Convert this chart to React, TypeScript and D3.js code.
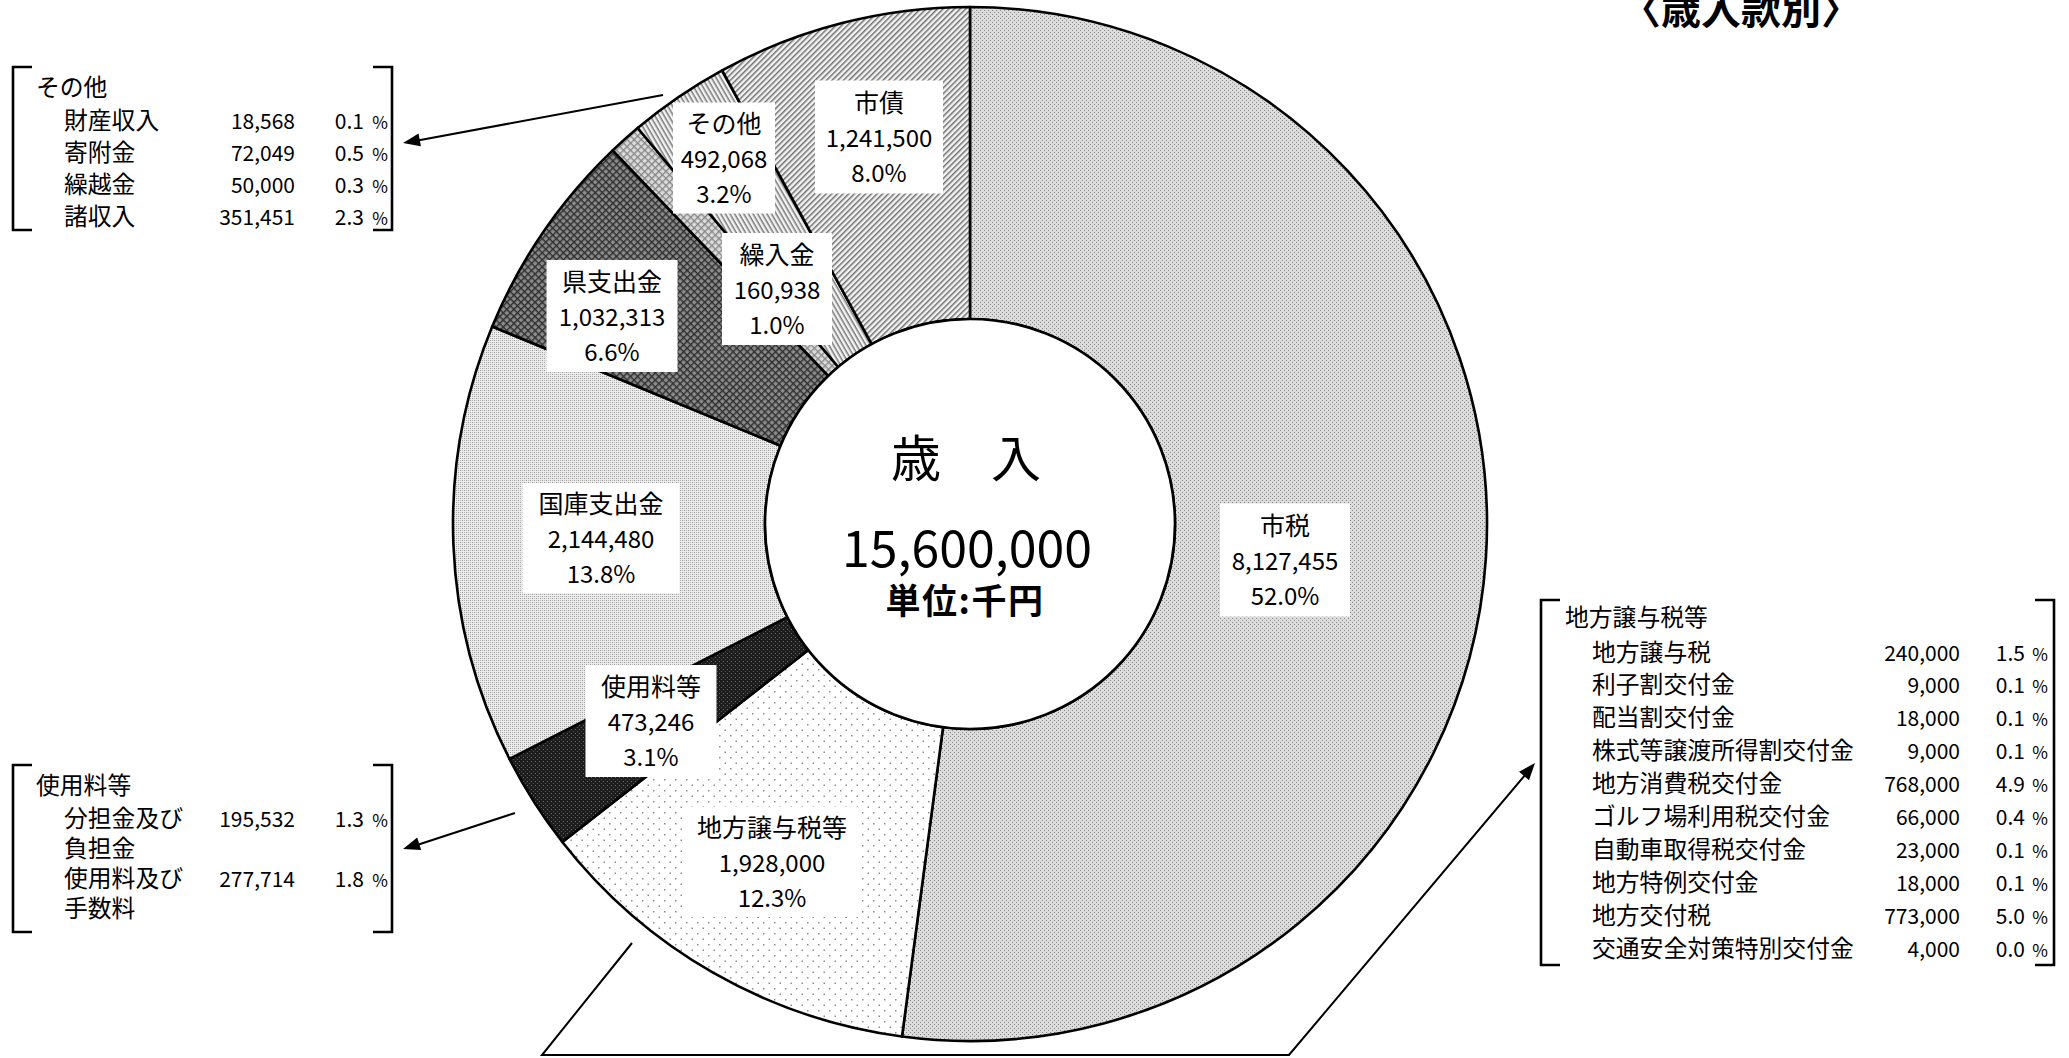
import React, { useEffect } from 'react';
import * as d3 from 'd3';

// ---- data ----
const categories = ['市税', '地方譲与税等', '使用料等', '国庫支出金', '県支出金', '繰入金', 'その他', '市債'];
const values = [8127455, 1928000, 473246, 2144480, 1032313, 160938, 492068, 1241500];
const percents = ['52.0%', '12.3%', '3.1%', '13.8%', '6.6%', '1.0%', '3.2%', '8.0%'];

const otherNames = ['財産収入', '寄附金', '繰越金', '諸収入'];
const otherValues = [18568, 72049, 50000, 351451];
const otherPercents = ['0.1', '0.5', '0.3', '2.3'];

const feeNames = [['分担金及び', '負担金'], ['使用料及び', '手数料']];
const feeValues = [195532, 277714];
const feePercents = ['1.3', '1.8'];

const localNames = ['地方譲与税', '利子割交付金', '配当割交付金', '株式等譲渡所得割交付金', '地方消費税交付金', 'ゴルフ場利用税交付金', '自動車取得税交付金', '地方特例交付金', '地方交付税', '交通安全対策特別交付金'];
const localValues = [240000, 9000, 18000, 9000, 768000, 66000, 23000, 18000, 773000, 4000];
const localPercents = ['1.5', '0.1', '0.1', '0.1', '4.9', '0.4', '0.1', '0.1', '5.0', '0.0'];

// ---- layout ----
const W = 2069, H = 1058;
const CX = 970, CY = 524, R_OUT = 517, R_IN = 205;
const FONT = "'Noto Sans CJK JP', 'Noto Sans CJK SC', sans-serif";

// label box layout per category (center x, center y, width, height)
const labelBoxes = [
  { x: 1285, y: 560, w: 130, h: 113 },
  { x: 772, y: 862, w: 180, h: 110 },
  { x: 651, y: 721, w: 131, h: 112 },
  { x: 601, y: 538, w: 157, h: 110 },
  { x: 612, y: 316, w: 131, h: 112 },
  { x: 777, y: 289, w: 110, h: 112 },
  { x: 724, y: 158, w: 102, h: 111 },
  { x: 879, y: 137, w: 128, h: 113 },
];

const fmt = d3.format(',');

function arrowHead(x1: number, y1: number, x2: number, y2: number, len = 17, half = 6.5) {
  const dx = x2 - x1, dy = y2 - y1;
  const d = Math.hypot(dx, dy);
  const ux = dx / d, uy = dy / d;
  const bx = x2 - ux * len, by = y2 - uy * len;
  const px = -uy * half, py = ux * half;
  return `${x2},${y2} ${bx + px},${by + py} ${bx - px},${by - py}`;
}

function Bracket({ x1, x2, y1, y2 }: { x1: number; x2: number; y1: number; y2: number }) {
  const t = 19;
  return (
    <g fill="none" stroke="#000" strokeWidth={2.6}>
      <path d={`M${x1 + t},${y1} H${x1} V${y2} H${x1 + t}`} />
      <path d={`M${x2 - t},${y1} H${x2} V${y2} H${x2 - t}`} />
    </g>
  );
}

export default function App() {
  useEffect(() => {
    document.body.style.margin = '0';
    document.body.style.overflow = 'hidden';
  }, []);

  const pie = d3.pie<number>().sort(null).value((d) => d).startAngle(0).endAngle(2 * Math.PI);
  const arcs = pie(values);
  const arc = d3.arc<d3.PieArcDatum<number>>().innerRadius(R_IN).outerRadius(R_OUT);
  const total = d3.sum(values);

  const legendFs = 23.8;
  const numFs = 21;

  return (
    <svg width={W} height={H} style={{ position: 'absolute', left: 0, top: 0, background: '#fff' }} fontFamily={FONT}>
      <defs>
        <pattern id="p0" width={4} height={4} patternUnits="userSpaceOnUse">
          <rect width={4} height={4} fill="#dcdcdc" />
          <rect x={0} y={0} width={1} height={1} fill="#858585" />
          <rect x={2} y={2} width={1} height={1} fill="#858585" />
        </pattern>
        <pattern id="p1" width={11} height={11} patternUnits="userSpaceOnUse">
          <rect width={11} height={11} fill="#ffffff" />
          <rect x={2} y={2} width={1.5} height={1.5} fill="#8f8f8f" />
          <rect x={7.5} y={7.5} width={1.5} height={1.5} fill="#8f8f8f" />
        </pattern>
        <pattern id="p2" width={4} height={4} patternUnits="userSpaceOnUse">
          <rect width={4} height={4} fill="#1c1c1c" />
          <rect x={1} y={1} width={1} height={1} fill="#707070" />
          <rect x={3} y={3} width={1} height={1} fill="#555" />
        </pattern>
        <pattern id="p3" width={4} height={4} patternUnits="userSpaceOnUse">
          <rect width={4} height={4} fill="#ececec" />
          <rect x={0} y={0} width={1} height={1} fill="#999" />
          <rect x={2} y={2} width={1} height={1} fill="#999" />
          <rect x={0} y={2} width={1} height={1} fill="#bbb" />
          <rect x={2} y={0} width={1} height={1} fill="#bbb" />
        </pattern>
        <pattern id="p4" width={5} height={5} patternUnits="userSpaceOnUse" patternTransform="rotate(45)">
          <rect width={5} height={5} fill="#8c8c8c" />
          <rect x={0} y={0} width={5} height={1.4} fill="#2e2e2e" />
          <rect x={0} y={0} width={1.4} height={5} fill="#2e2e2e" />
        </pattern>
        <pattern id="p5" width={5} height={5} patternUnits="userSpaceOnUse" patternTransform="rotate(45)">
          <rect width={5} height={5} fill="#dcdcdc" />
          <rect x={0} y={0} width={5} height={1.3} fill="#858585" />
          <rect x={0} y={0} width={1.3} height={5} fill="#858585" />
        </pattern>
        <pattern id="p6" width={4} height={4} patternUnits="userSpaceOnUse" patternTransform="rotate(60)">
          <rect width={4} height={4} fill="#f2f2f2" />
          <rect x={0} y={0} width={4} height={1.5} fill="#7a7a7a" />
        </pattern>
        <pattern id="p7" width={4} height={4} patternUnits="userSpaceOnUse" patternTransform="rotate(-45)">
          <rect width={4} height={4} fill="#f2f2f2" />
          <rect x={0} y={0} width={4} height={1.5} fill="#727272" />
        </pattern>
      </defs>

      {/* title */}
      <text x={1741} y={24} textAnchor="middle" fontSize={40} fontWeight="bold">〈歳入款別〉</text>

      {/* donut */}
      <g transform={`translate(${CX},${CY})`}>
        {arcs.map((a, i) => (
          <path key={categories[i]} d={arc(a) || ''} fill={`url(#p${i})`} stroke="#000" strokeWidth={2.6} strokeLinejoin="round" />
        ))}
        <circle r={R_IN} fill="#fff" stroke="#000" strokeWidth={2.6} />
      </g>

      {/* slice labels */}
      {categories.map((c, i) => {
        const b = labelBoxes[i];
        return (
          <g key={c}>
            <rect x={b.x - b.w / 2} y={b.y - b.h / 2} width={b.w} height={b.h} fill="#fff" />
            <text x={b.x} y={b.y - 25} textAnchor="middle" fontSize={25}>{c}</text>
            <text x={b.x} y={b.y + 10} textAnchor="middle" fontSize={24}>{fmt(values[i])}</text>
            <text x={b.x} y={b.y + 45} textAnchor="middle" fontSize={24}>{percents[i]}</text>
          </g>
        );
      })}

      {/* center */}
      <text x={966} y={477} textAnchor="middle" fontSize={50}>歳　入</text>
      <text x={967} y={567} textAnchor="middle" fontSize={50}>{fmt(total)}</text>
      <text x={965} y={614} textAnchor="middle" fontSize={35} fontWeight="bold" letterSpacing={1.5}>単位:千円</text>

      {/* upper-left legend: その他 */}
      <Bracket x1={13} x2={392} y1={67} y2={230} />
      <text x={36} y={87 + 8.5} fontSize={legendFs}>その他</text>
      {otherNames.map((n, i) => {
        const y = 120 + i * 32 + 8.5;
        return (
          <g key={n}>
            <text x={64} y={y} fontSize={legendFs}>{n}</text>
            <text x={295} y={y} textAnchor="end" fontSize={numFs}>{fmt(otherValues[i])}</text>
            <text x={364} y={y} textAnchor="end" fontSize={numFs}>{otherPercents[i]}</text>
            <text x={388} y={y} textAnchor="end" fontSize={17}>%</text>
          </g>
        );
      })}
      <line x1={663} y1={95} x2={415} y2={141} stroke="#000" strokeWidth={2} />
      <polygon points={arrowHead(663, 95, 403, 143)} fill="#000" />

      {/* lower-left legend: 使用料等 */}
      <Bracket x1={13} x2={392} y1={765} y2={932} />
      <text x={36} y={785 + 8.5} fontSize={legendFs}>使用料等</text>
      {feeNames.map((n, i) => {
        const y = 818 + i * 60 + 8.5;
        return (
          <g key={n[0]}>
            <text x={64} y={y} fontSize={legendFs}>{n[0]}</text>
            <text x={64} y={y + 30} fontSize={legendFs}>{n[1]}</text>
            <text x={295} y={y} textAnchor="end" fontSize={numFs}>{fmt(feeValues[i])}</text>
            <text x={364} y={y} textAnchor="end" fontSize={numFs}>{feePercents[i]}</text>
            <text x={388} y={y} textAnchor="end" fontSize={17}>%</text>
          </g>
        );
      })}
      <line x1={515} y1={813} x2={414} y2={846} stroke="#000" strokeWidth={2} />
      <polygon points={arrowHead(515, 813, 403, 849)} fill="#000" />

      {/* right legend: 地方譲与税等 */}
      <Bracket x1={1541} x2={2054} y1={600} y2={965} />
      <text x={1565} y={617 + 8.5} fontSize={legendFs}>地方譲与税等</text>
      {localNames.map((n, i) => {
        const y = 652 + i * 32.9 + 8.5;
        return (
          <g key={n}>
            <text x={1592} y={y} fontSize={legendFs}>{n}</text>
            <text x={1960} y={y} textAnchor="end" fontSize={numFs}>{fmt(localValues[i])}</text>
            <text x={2025} y={y} textAnchor="end" fontSize={numFs}>{localPercents[i]}</text>
            <text x={2048} y={y} textAnchor="end" fontSize={17}>%</text>
          </g>
        );
      })}
      <polyline points="632,943 542,1055 1289,1055 1526,774" fill="none" stroke="#000" strokeWidth={2} />
      <polygon points={arrowHead(1289, 1055, 1535, 763)} fill="#000" />
    </svg>
  );
}
